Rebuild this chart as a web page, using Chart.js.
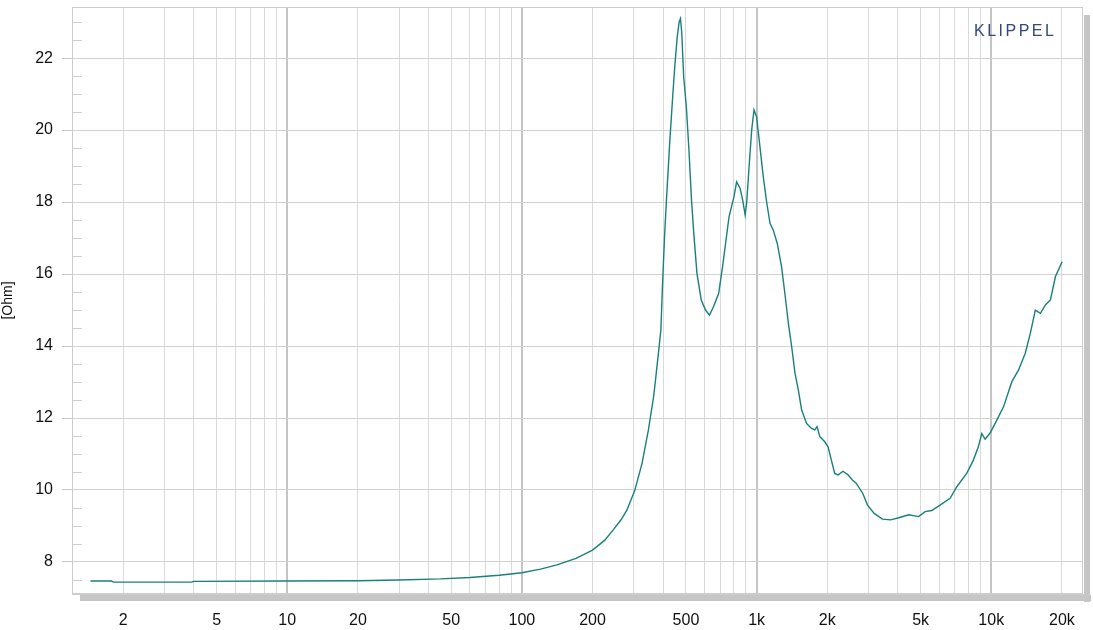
<!DOCTYPE html>
<html>
<head>
<meta charset="utf-8">
<script src="https://cdn.jsdelivr.net/npm/chart.js@4.4.1/dist/chart.umd.min.js"></script>
<style>
  html, body { margin: 0; padding: 0; background: #ffffff; }
  #wrap { width: 1093px; height: 630px; }
</style>
</head>
<body>
<div id="wrap"><canvas id="c" width="1093" height="630"></canvas></div>
<script>
// ---- data ----
const freqHz = [
  1.45, 1.78, 1.82, 3.9, 4.0, 10, 20, 30, 45, 60, 80, 100, 120, 141, 170, 200, 225, 245, 265, 280,
  302, 325, 346, 364, 371, 391, 397, 406, 413, 427, 438, 448, 459, 468, 474, 480, 489, 502, 515, 528,
  540, 557, 581, 606, 630, 655, 689, 716, 763, 801, 822, 851, 872, 894, 908, 931, 953, 975, 1000, 1026,
  1068, 1106, 1141, 1178, 1225, 1278, 1320, 1366, 1411, 1458, 1506, 1556, 1633, 1714, 1770, 1810, 1860, 1952, 2016, 2083,
  2152, 2224, 2335, 2452, 2560, 2655, 2832, 2970, 3170, 3438, 3727, 4038, 4448, 4902, 5230, 5580, 6050, 6680, 7130, 7860,
  8390, 8810, 9110, 9420, 9900, 10390, 11280, 12240, 13060, 13960, 14670, 15410, 16200, 17010, 17870, 18770, 20050
];
const impedanceOhm = [
  7.47, 7.47, 7.44, 7.44, 7.46, 7.47, 7.48, 7.50, 7.53, 7.57, 7.63, 7.70, 7.80, 7.92, 8.10, 8.33, 8.60, 8.89, 9.18, 9.44,
  9.97, 10.74, 11.67, 12.59, 13.06, 14.44, 15.65, 17.14, 18.06, 19.72, 20.83, 21.76, 22.59, 23.01, 23.10, 22.69, 21.48, 20.65, 19.44, 18.06,
  17.13, 16.02, 15.28, 15.00, 14.86, 15.09, 15.46, 16.20, 17.59, 18.15, 18.56, 18.38, 18.06, 17.64, 18.01, 19.07, 20.00, 20.56, 20.37, 19.72,
  18.70, 17.96, 17.41, 17.22, 16.85, 16.20, 15.46, 14.63, 13.98, 13.24, 12.78, 12.22, 11.85, 11.71, 11.67, 11.76, 11.48, 11.34, 11.20, 10.83,
  10.46, 10.42, 10.52, 10.42, 10.28, 10.19, 9.91, 9.58, 9.35, 9.19, 9.17, 9.23, 9.31, 9.26, 9.40, 9.43, 9.58, 9.77, 10.09, 10.46,
  10.83, 11.20, 11.57, 11.41, 11.59, 11.85, 12.31, 13.01, 13.33, 13.80, 14.35, 15.00, 14.91, 15.14, 15.28, 15.93, 16.34
];
const xLabelValues = [2, 5, 10, 20, 50, 100, 200, 500, 1000, 2000, 5000, 10000, 20000];
const xLabelTexts  = ['2', '5', '10', '20', '50', '100', '200', '500', '1k', '2k', '5k', '10k', '20k'];
const yLabelValues = [8, 10, 12, 14, 16, 18, 20, 22];
const yAxisTitle = '[Ohm]';
const brandText = 'KLIPPEL';

// ---- scale ranges ----
const X_MIN = 1.21, X_MAX = 24600;
const Y_MIN = 7.11, Y_MAX = 23.42;

const points = freqHz.map((f, i) => ({ x: f, y: impedanceOhm[i] }));

function buildLogTicks() {
  const t = [];
  for (let e = 0; e <= 4; e++) {
    for (let s = 1; s <= 9; s++) {
      const v = s * Math.pow(10, e);
      if (v >= X_MIN && v <= X_MAX) t.push({ value: v });
    }
  }
  return t;
}
function buildYTicks() {
  const t = [];
  for (let v = 7.5; v <= Y_MAX + 1e-9; v += 0.5) t.push({ value: Math.round(v * 10) / 10 });
  return t;
}
function isDecade(v) {
  const l = Math.log10(v);
  return Math.abs(l - Math.round(l)) < 1e-9;
}
function isYMajor(v) { return yLabelValues.indexOf(v) !== -1; }

const framePlugin = {
  id: 'frame',
  beforeDraw(chart) {
    const { ctx, chartArea: a } = chart;
    ctx.save();
    ctx.fillStyle = '#c6c6c6';
    ctx.fillRect(a.left + 8, a.bottom + 1, a.right - a.left, 6);
    ctx.fillRect(a.right + 1, a.top + 8, 6, a.bottom - a.top);
    ctx.fillStyle = '#ffffff';
    ctx.fillRect(a.left, a.top, a.right - a.left, a.bottom - a.top);
    ctx.restore();
  },
  beforeDatasetsDraw(chart) {
    const { ctx, chartArea: a } = chart;
    const ys = chart.scales.y;
    ctx.save();
    ctx.strokeStyle = '#cfcfcf';
    ctx.lineWidth = 1;
    ys.ticks.forEach(t => {
      if (!isYMajor(t.value)) {
        const py = Math.round(ys.getPixelForValue(t.value)) + 0.5;
        ctx.beginPath();
        ctx.moveTo(a.left, py);
        ctx.lineTo(a.left + 10, py);
        ctx.stroke();
      }
    });
    ctx.strokeStyle = '#cccccc';
    ctx.strokeRect(a.left + 0.5, a.top + 0.5, a.right - a.left - 1, a.bottom - a.top - 1);
    ctx.restore();
  },
  afterDraw(chart) {
    const { ctx } = chart;
    ctx.save();
    ctx.fillStyle = '#34497a';
    ctx.font = '16px "Liberation Sans", Arial, sans-serif';
    try { ctx.letterSpacing = '2.5px'; } catch (e) {}
    ctx.textAlign = 'left';
    ctx.textBaseline = 'middle';
    ctx.fillText(brandText, 974, 32);
    ctx.restore();
  }
};

new Chart(document.getElementById('c'), {
  type: 'line',
  data: {
    datasets: [{
      data: points,
      borderColor: '#18807d',
      borderWidth: 1.4,
      pointRadius: 0,
      tension: 0,
      fill: false
    }]
  },
  options: {
    responsive: false,
    animation: false,
    devicePixelRatio: 1,
    layout: { padding: { left: 0, top: 7, right: 10, bottom: 0 } },
    plugins: { legend: { display: false }, tooltip: { enabled: false } },
    scales: {
      x: {
        type: 'logarithmic',
        min: X_MIN,
        max: X_MAX,
        afterBuildTicks: s => { s.ticks = buildLogTicks(); },
        afterFit: s => { s.height = 36; s.paddingLeft = 0; s.paddingRight = 0; },
        grid: {
          drawTicks: false,
          color: c => isDecade(c.tick.value) ? '#c4c4c4' : '#dadada',
          lineWidth: c => isDecade(c.tick.value) ? 2 : 1
        },
        border: { display: true, color: '#cccccc' },
        ticks: {
          autoSkip: false,
          maxRotation: 0,
          minRotation: 0,
          padding: 17,
          color: '#111111',
          font: { family: '"Liberation Sans", Arial, sans-serif', size: 16 },
          callback: v => {
            const i = xLabelValues.findIndex(x => Math.abs(x - v) < 1e-6 * x);
            return i >= 0 ? xLabelTexts[i] : '';
          }
        }
      },
      y: {
        type: 'linear',
        min: Y_MIN,
        max: Y_MAX,
        afterBuildTicks: s => { s.ticks = buildYTicks(); },
        afterFit: s => { s.width = 72; s.paddingTop = 0; s.paddingBottom = 0; },
        title: {
          display: true,
          text: yAxisTitle,
          color: '#111111',
          font: { family: '"Liberation Sans", Arial, sans-serif', size: 14 },
          padding: { top: 0, bottom: 0 }
        },
        grid: {
          drawTicks: true,
          tickLength: 10,
          color: c => isYMajor(c.tick.value) ? '#d2d2d2' : 'rgba(0,0,0,0)',
          tickColor: c => isYMajor(c.tick.value) ? '#c8c8c8' : 'rgba(0,0,0,0)',
          lineWidth: 1
        },
        border: { display: true, color: '#cccccc' },
        ticks: {
          autoSkip: false,
          padding: 9,
          color: '#111111',
          font: { family: '"Liberation Sans", Arial, sans-serif', size: 16 },
          callback: v => isYMajor(v) ? String(v) : ''
        }
      }
    }
  },
  plugins: [framePlugin]
});
</script>
</body>
</html>
